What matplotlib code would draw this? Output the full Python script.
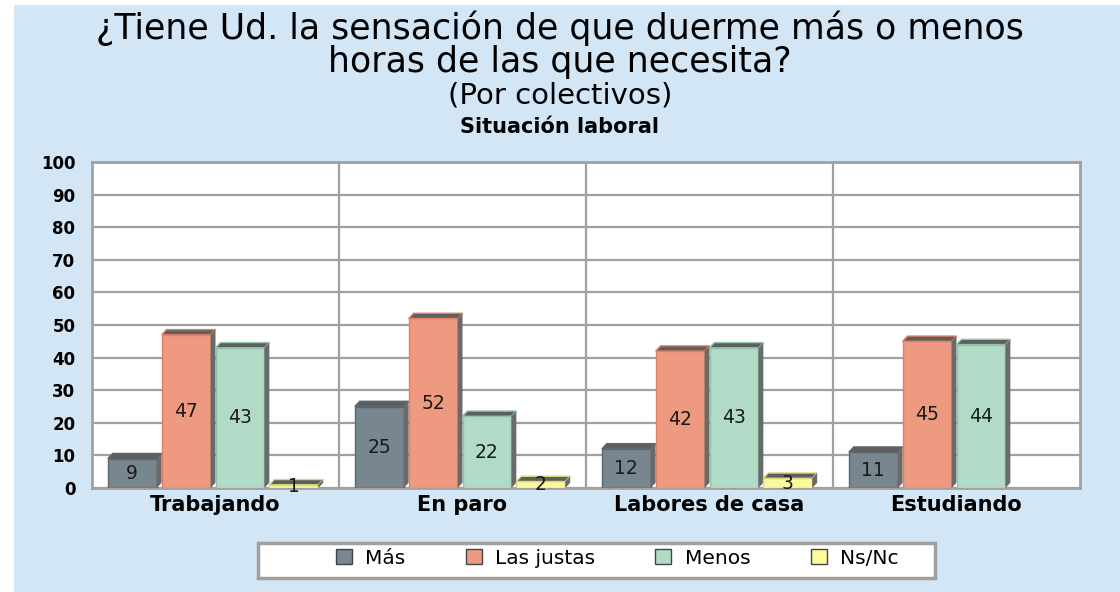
import numpy as np
import matplotlib
matplotlib.use("Agg")
import matplotlib.pyplot as plt
from matplotlib.patches import Rectangle, Polygon, Patch

# data
categories = ["Trabajando", "En paro", "Labores de casa", "Estudiando"]
series = ["Más", "Las justas", "Menos", "Ns/Nc"]
mas = [9, 25, 12, 11]
justas = [47, 52, 42, 45]
menos = [43, 22, 43, 44]
nsnc = [1, 2, 3, 0]
values = [mas, justas, menos, nsnc]
colors = ["#77868f", "#ee9a80", "#b1dbc6", "#fbfa9c"]
edges = ["#5b6870", "#e0805f", "#8fc4aa", "#d8d67a"]
yticks = [0, 10, 20, 30, 40, 50, 60, 70, 80, 90, 100]

plt.rcParams['font.family'] = ['DejaVu Sans']

fig = plt.figure(figsize=(11.2, 5.92), dpi=100, facecolor="white")
# blue panel
fig.patches.append(Rectangle((14/1120, 0), 1, 1 - 5/592, transform=fig.transFigure,
                             facecolor="#d3e6f5", edgecolor="none", zorder=-10))

ax = fig.add_axes([92/1120, 1 - 488/592, 988/1120, 326/592])
ax.set_facecolor("white")

x = np.arange(len(categories))
slot = 0.218
w = 0.198
dx = 0.02    # depth in x (category units)
dy = 1.6     # depth in y (data units)
for i, (vals, c, ec) in enumerate(zip(values, colors, edges)):
    pos = x + (i - 1.5) * slot - dx / 2
    for xp, v in zip(pos, vals):
        if v <= 0:
            continue
        x0, x1 = xp - w/2, xp + w/2
        ax.add_patch(Rectangle((x0, 0), w, v, facecolor=c, edgecolor=ec, lw=1, zorder=3))
        # top face
        ax.add_patch(Polygon([(x0, v), (x0 + dx, v + dy), (x1 + dx, v + dy), (x1, v)],
                             closed=True, facecolor="#5e5e5e", edgecolor=ec, lw=1, zorder=3))
        # side face
        ax.add_patch(Polygon([(x1, 0), (x1 + dx, dy), (x1 + dx, v + dy), (x1, v)],
                             closed=True, facecolor="#6a6a6a", edgecolor="none", zorder=3))
        ax.text(xp, v / 2, str(v), ha="center", va="center", fontsize=13.5,
                color="#1a1a1a", zorder=4)

ax.set_xlim(-0.5, len(categories) - 0.5)
ax.set_ylim(0, 100)
ax.set_yticks(yticks)
ax.set_yticklabels([str(t) for t in yticks], fontsize=12, fontweight="bold")
ax.set_xticks(x)
ax.set_xticklabels(categories, fontsize=15, fontweight="bold")
ax.tick_params(length=0)
ax.tick_params(axis="y", pad=12)
ax.tick_params(axis="x", pad=5)
for t in yticks:
    ax.axhline(t, color="#a0a0a0", lw=1.6, zorder=1)
for b in x[:-1] + 0.5:
    ax.axvline(b, color="#a0a0a0", lw=1.6, zorder=1)
for s in ax.spines.values():
    s.set_color("#a0a0a0")
    s.set_linewidth(2)

fig.text(0.5, 1 - 28/592, "¿Tiene Ud. la sensación de que duerme más o menos", ha="center",
         va="center", fontsize=25)
fig.text(0.5, 1 - 62/592, "horas de las que necesita?", ha="center", va="center", fontsize=25)
fig.text(0.5, 1 - 95/592, "(Por colectivos)", ha="center", va="center", fontsize=21)
fig.text(0.5, 1 - 127/592, "Situación laboral", ha="center", va="center", fontsize=15,
         fontweight="bold")

# legend box
fig.patches.append(Rectangle((258/1120, 1 - 578/592), 677/1120, 35/592, transform=fig.transFigure,
                             facecolor="white", edgecolor="#a0a0a0", lw=2.5, zorder=5))
handles = [Patch(facecolor=c, edgecolor="#444444", lw=1) for c in colors]
leg = fig.legend(handles, series, loc="center", bbox_to_anchor=(617/1120, 1 - 558/592),
                 ncol=4, frameon=False, fontsize=14.5, handlelength=0.8, handleheight=0.8,
                 columnspacing=3.0, handletextpad=0.65)
leg.set_zorder(6)

fig.savefig("out.png", dpi=100, facecolor=fig.get_facecolor())
